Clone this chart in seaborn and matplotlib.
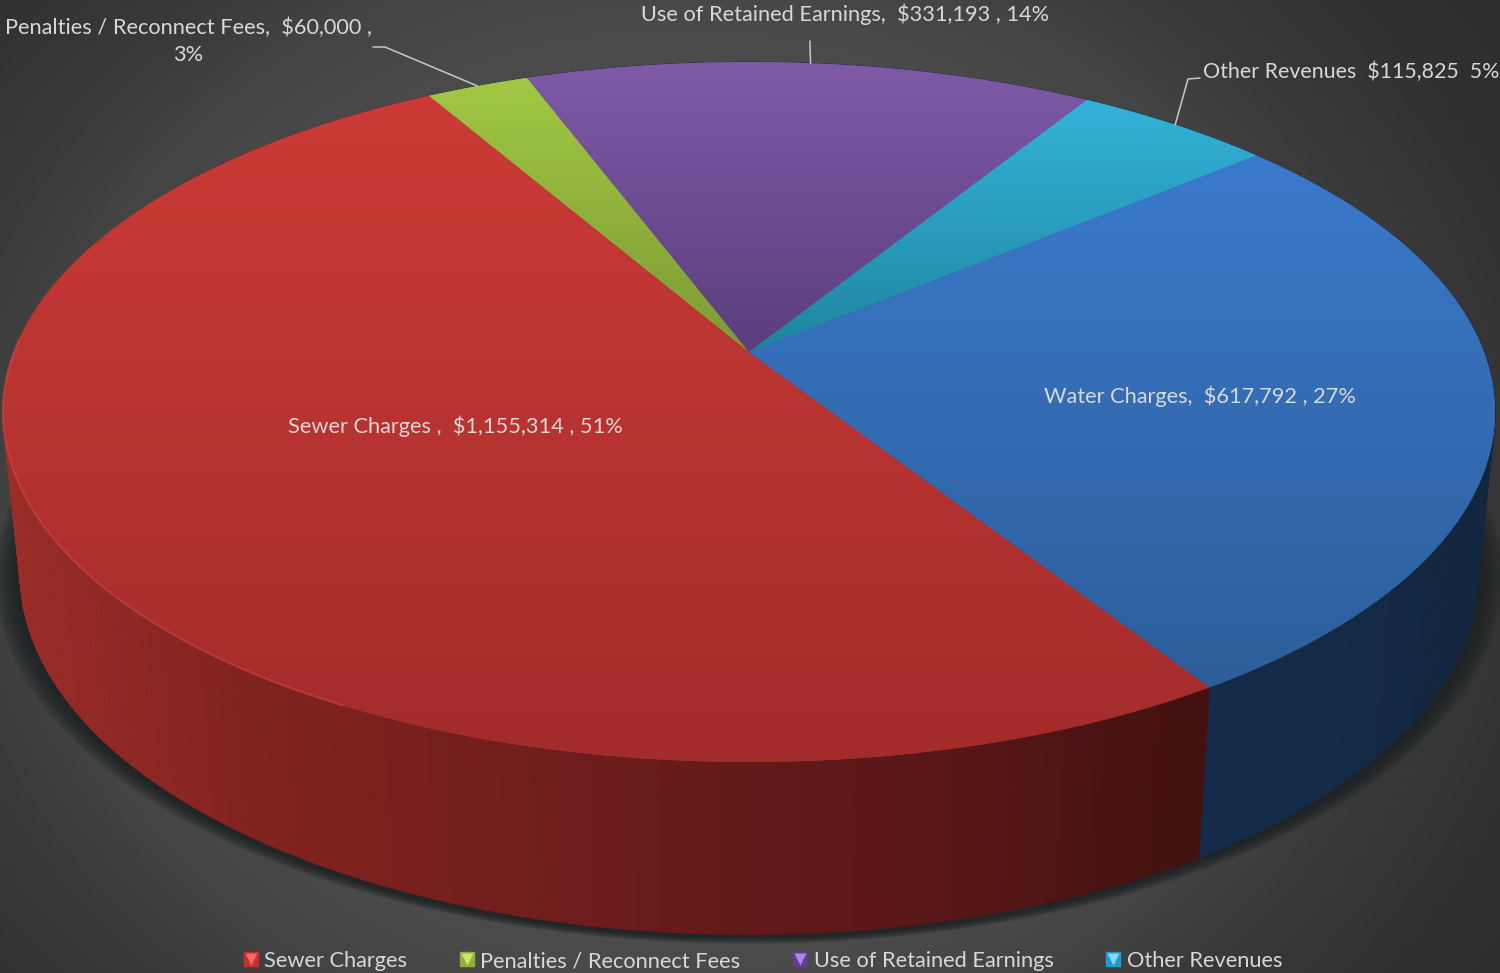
import numpy as np
import matplotlib
matplotlib.use("Agg")
import matplotlib.pyplot as plt
from matplotlib.collections import PolyCollection
from matplotlib.colors import LinearSegmentedColormap
from matplotlib.lines import Line2D
from matplotlib.patches import Polygon
from matplotlib.legend_handler import HandlerTuple
import seaborn as sns

# Revenue sources
categories = ["Sewer Charges", "Penalties / Reconnect Fees", "Use of Retained Earnings",
              "Other Revenues", "Water Charges"]
amounts = [1155314, 60000, 331193, 115825, 617792]
percent_labels = ["51%", "3%", "14%", "5%", "27%"]

# Face colours of each slice, upper to lower edge
face_top = ["#cc3b37", "#a2c843", "#7f5aa8", "#33b3da", "#3b79cb"]
face_bottom = ["#a22c2b", "#7d9a35", "#5b3e7c", "#1f85a0", "#2d5e9a"]
legend_keys = ["#c8302f", "#8fb03a", "#5f3f96", "#1f9dc8"]
legend_tips = ["#ee6a66", "#c9e86a", "#a88ad8", "#7fdcf2"]
wall_red = ["#431210", "#581616", "#661a1a", "#741f1d", "#82231f", "#9a2d28"]
wall_blue = ["#13263f", "#142a45", "#15294a"]
text_colour = "#d8d8d8"

sns.set_theme(style="dark")
plt.rcParams["font.family"] = ["Lato", "DejaVu Sans"]

fig = plt.figure(figsize=(15, 9.73), dpi=100)
ax = fig.add_axes([0, 0, 1, 1])
ax.set_axis_off()

# Perspective of the disc: foreshortening factor and the two rim planes
K = 0.1714
TOP = dict(x0=749.0, y0=352.0, a=735.0, b=339.7)
BASE = dict(x0=749.0, y0=512.0, a=718.0, b=350.0)
START = 57.6


def rim(theta_deg, plane):
    t = np.radians(theta_deg)
    c, s = np.cos(t), np.sin(t)
    d = 1 - K * s
    return plane["x0"] + plane["a"] * c / d, plane["y0"] + plane["b"] * s / d


# Backdrop: soft radial glow
yy, xx = np.mgrid[0:973, 0:1500]
r = np.sqrt(((xx - 680) / 820.0) ** 2 + ((yy - 500) / 700.0) ** 2)
glow = LinearSegmentedColormap.from_list(
    "glow", [(0.0, "#606060"), (0.515, "#4a4a4a"), (0.61, "#444444"),
             (0.70, "#3a3a3a"), (0.84, "#313131"), (1.0, "#2c2c2c")])
ax.imshow(np.clip(r / 1.3, 0, 1), cmap=glow, vmin=0, vmax=1,
          extent=[0, 1500, 973, 0], aspect="auto", zorder=0)

# Soft shadow beneath the disc, widest at the sides
theta_all = np.linspace(0, 360, 361)
bx, by = rim(theta_all, BASE)
for grow in np.linspace(1.0, 1.035, 12):
    ax.add_patch(Polygon(np.column_stack([749 + (bx - 749) * grow,
                                          520 + (by - 520) * (1 + (grow - 1) * 0.45) + 3]),
                         closed=True, fc="#1a1f21", ec="none", alpha=0.12, zorder=1))

# Slice boundaries follow directly from the amounts
fractions = np.array(amounts, dtype=float) / np.sum(amounts)
edges = START + np.concatenate([[0], np.cumsum(fractions) * 360])
mids = (edges[:-1] + edges[1:]) / 2

# Side wall, drawn strip by strip from the back to the front
red_cmap = sns.blend_palette(wall_red, as_cmap=True)
blue_cmap = sns.blend_palette(wall_blue, as_cmap=True)
strips, strip_colours = [], []
theta_grid = np.arange(edges[0], edges[-1], 0.75)
order = np.argsort(np.sin(np.radians(theta_grid)))
for t0 in theta_grid[order]:
    t1 = t0 + 0.75
    x_a, y_a = rim(t0, TOP)
    x_b, y_b = rim(t1, TOP)
    x_c, y_c = rim(t1, BASE)
    x_d, y_d = rim(t0, BASE)
    strips.append([(x_a, y_a), (x_b, y_b), (x_c, y_c), (x_d, y_d)])
    if t0 < edges[1]:
        strip_colours.append(red_cmap((1195 - x_a) / 1190.0))
    else:
        strip_colours.append(blue_cmap((1480 - x_a) / 280.0))
ax.add_collection(PolyCollection(strips, facecolors=strip_colours, edgecolors=strip_colours,
                                 linewidths=0.6, zorder=2))

# Top face of the disc, each slice with its own vertical gradient
for i in range(len(amounts)):
    th = np.linspace(edges[i], edges[i + 1], 200)
    px, py = rim(th, TOP)
    pts = np.vstack([[TOP["x0"], TOP["y0"]], np.column_stack([px, py])])
    poly = Polygon(pts, closed=True, fc=sns.blend_palette([face_top[i], face_bottom[i]], 3)[1],
                   ec="none", zorder=3)
    ax.add_patch(poly)
    lo, hi = pts[:, 1].min(), pts[:, 1].max()
    ramp = sns.blend_palette([face_top[i], face_bottom[i]], as_cmap=True)
    im = ax.imshow(np.linspace(0, 1, 256)[:, None], cmap=ramp, vmin=0, vmax=1,
                   extent=[pts[:, 0].min(), pts[:, 0].max(), hi, lo], aspect="auto", zorder=4)
    im.set_clip_path(poly)

# Light catching the front left rim of the largest slice
hx, hy = rim(np.linspace(118, 182, 120), TOP)
ax.plot(hx, hy, color="#e0504a", lw=1.5, alpha=0.4, zorder=5)

# Leader lines from the slice rims to the outer labels
leaders = {1: [(373, 47), (385, 47)], 2: [(810, 41), (810, 47)], 3: [(1200, 78), (1188, 79)]}
for idx, elbow in leaders.items():
    ex, ey = rim(mids[idx], TOP)
    xs = [p[0] for p in elbow] + [ex]
    ys = [p[1] for p in elbow] + [ey]
    ax.plot(xs, ys, color="#c8c8c8", lw=1.1, zorder=6)


def money(v):
    return f"${v:,}"


FS = 15.7
ax.text(455, 426, f"{categories[0]} ,  {money(amounts[0])} , {percent_labels[0]}",
        color=text_colour, fontsize=FS, ha="center", va="center", zorder=7)
ax.text(1200, 396, f"{categories[4]},  {money(amounts[4])} , {percent_labels[4]}",
        color=text_colour, fontsize=FS, ha="center", va="center", zorder=7)
ax.text(188, 41, f"{categories[1]},  {money(amounts[1])} ,\n{percent_labels[1]}",
        color=text_colour, fontsize=FS, ha="center", va="center", linespacing=1.45, zorder=7)
ax.text(845, 14, f"{categories[2]},  {money(amounts[2])} , {percent_labels[2]}",
        color=text_colour, fontsize=FS, ha="center", va="center", zorder=7)
ax.text(1203, 72, f"{categories[3]}  {money(amounts[3])}  {percent_labels[3]}",
        color=text_colour, fontsize=15.4, ha="left", va="center", zorder=7)

# Legend along the bottom; the last series does not fit
handles = []
for key, tip in zip(legend_keys, legend_tips):
    square = Line2D([], [], marker="s", ls="none", ms=10, mfc=key, mec=key)
    wedge = Line2D([], [], marker="v", ls="none", ms=8, mfc=tip, mec="none")
    handles.append((square, wedge))
ax.legend(handles, categories[:4], handler_map={tuple: HandlerTuple(ndivide=1, pad=0)},
          loc="lower left", bbox_to_anchor=(240, 971), bbox_transform=ax.transData,
          ncol=4, frameon=False, fontsize=FS, labelcolor=text_colour,
          handlelength=1.0, handletextpad=0.12, columnspacing=2.23, borderpad=0, borderaxespad=0)

ax.set_xlim(0, 1500)
ax.set_ylim(973, 0)
fig.savefig("out.png", dpi=100)
